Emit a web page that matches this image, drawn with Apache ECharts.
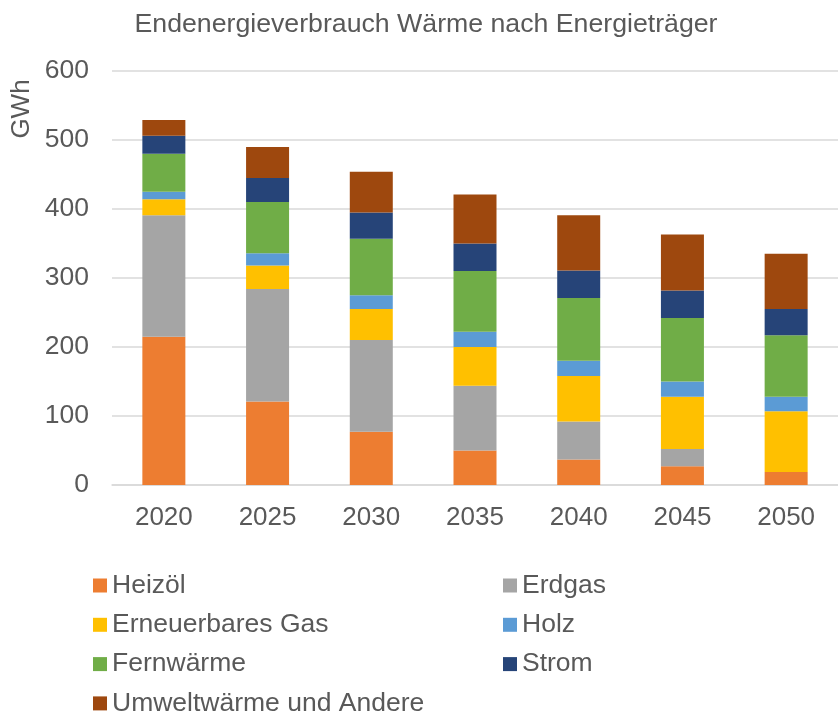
<!DOCTYPE html>
<html>
<head>
<meta charset="utf-8">
<title>Endenergieverbrauch Wärme</title>
<script src="https://cdn.jsdelivr.net/npm/echarts@6/dist/echarts.min.js"></script>
<style>
	html, body { margin: 0; padding: 0; background: #fff; }
	#chart { width: 838px; height: 711px; }
</style>
</head>
<body>
<div id="chart"></div>
<script>
// Jahre
var years = ['2020', '2025', '2030', '2035', '2040', '2045', '2050'];

// GWh je Energieträger
var heizoel     = [215, 121, 77, 50, 37, 27, 19];
var erdgas      = [176, 163, 133, 94, 55, 25, 0];
var ernGas      = [23, 34, 45, 56, 66, 76, 88];
var holz        = [11, 18, 20, 22, 22, 22, 21];
var fernwaerme  = [55, 74, 82, 88, 91, 92, 89];
var strom       = [26, 35, 38, 40, 40, 40, 38];
var umwelt      = [23, 45, 59, 71, 80, 81, 80];

var names = ['Heizöl', 'Erdgas', 'Erneuerbares Gas', 'Holz', 'Fernwärme', 'Strom', 'Umweltwärme und Andere'];
var values = [heizoel, erdgas, ernGas, holz, fernwaerme, strom, umwelt];
var colors = ['#ED7D31', '#A5A5A5', '#FFC000', '#5B9BD5', '#70AD47', '#264478', '#9E480E'];

var font = 'Liberation Sans, Arial, sans-serif',
	txtColor = '#595959';

var series = [];
for (var i = 0; i < names.length; i++) {
	series.push({
		name: names[i],
		type: 'bar',
		stack: 'total',
		barWidth: 43,
		itemStyle: { color: colors[i] },
		data: values[i]
	});
}

var legendText = { color: txtColor, fontFamily: font, fontSize: 26.5, lineHeight: 25 };

var option = {
	backgroundColor: '#fff',
	animation: false,
	color: colors,
	title: {
		text: 'Endenergieverbrauch Wärme nach Energieträger',
		left: 421,
		textAlign: 'center',
		top: 6,
		textStyle: { color: txtColor, fontFamily: font, fontSize: 26.7, fontWeight: 'normal' }
	},
	//GWh Achsentitel
	graphic: [{
		type: 'text',
		x: 22,
		y: 109,
		rotation: Math.PI / 2,
		style: {
			text: 'GWh',
			fill: txtColor,
			font: '26px ' + font,
			textAlign: 'center',
			textVerticalAlign: 'middle'
		}
	}],
	legend: [{
		orient: 'vertical',
		left: 88,
		top: 567,
		height: 150,
		icon: 'rect',
		itemWidth: 14,
		itemHeight: 14,
		itemGap: 12.3,
		textStyle: legendText,
		data: ['Heizöl', 'Erneuerbares Gas', 'Fernwärme', 'Umweltwärme und Andere']
	}, {
		orient: 'vertical',
		left: 498,
		top: 567,
		height: 150,
		icon: 'rect',
		itemWidth: 14,
		itemHeight: 14,
		itemGap: 12.3,
		textStyle: legendText,
		data: ['Erdgas', 'Holz', 'Strom']
	}],
	grid: {
		left: 112,
		right: -12.5,
		top: 71,
		bottom: 226
	},
	xAxis: {
		type: 'category',
		data: years,
		axisTick: { show: false },
		axisLine: { lineStyle: { color: '#d9d9d9', width: 1.5 } },
		axisLabel: { color: txtColor, fontFamily: font, fontSize: 26, margin: 20 }
	},
	yAxis: {
		type: 'value',
		min: 0,
		max: 600,
		interval: 100,
		axisLine: { show: false },
		axisTick: { show: false },
		splitLine: { lineStyle: { color: '#d9d9d9', width: 1.5 } },
		axisLabel: { color: txtColor, fontFamily: font, fontSize: 26.5, margin: 23 }
	},
	series: series
};

var myChart = echarts.init(document.getElementById('chart'));
myChart.setOption(option);
</script>
</body>
</html>
